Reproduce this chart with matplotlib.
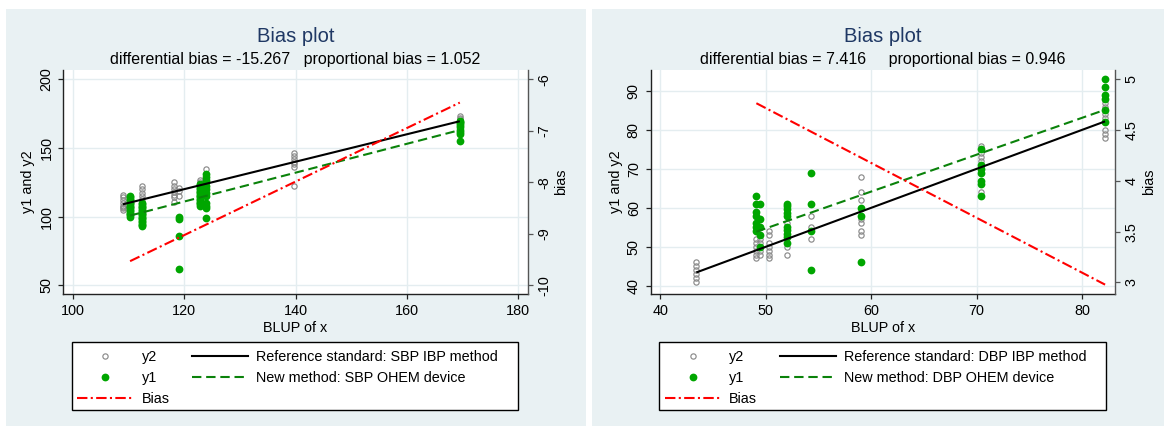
import matplotlib
matplotlib.use('Agg')
import matplotlib.pyplot as plt
from matplotlib.lines import Line2D
from matplotlib.patches import Rectangle
from matplotlib.ticker import FormatStrFormatter

plt.rcParams['font.family'] = ['Liberation Sans', 'DejaVu Sans']
plt.rcParams['axes.unicode_minus'] = False

# ---------------- data: SBP (left panel) ----------------
sbp_y2_x = [109.0, 112.4, 118.1, 119.1, 122.9, 123.9, 139.7, 169.5]
sbp_y2_vals = [
    [116, 114, 112, 110, 108, 107, 106, 105],
    [122, 120, 117, 115, 113, 110, 108],
    [125, 122, 120, 118, 116, 114, 111],
    [121, 119, 115],
    [127, 125, 122, 120, 117, 114, 111],
    [135, 130, 127, 122, 118],
    [146, 144, 142, 140, 138, 136, 122],
    [173, 172, 171, 170, 168, 166],
]
sbp_y1_x = [110.3, 112.4, 119.1, 122.9, 123.9, 169.5]
sbp_y1_vals = [
    [115, 114, 113, 112, 111, 110, 109, 108, 107, 106, 105, 104, 103, 102, 101, 100],
    [110, 109, 108, 107, 106, 105, 104, 103, 102, 101, 100, 99, 98, 97, 96, 95, 94, 93],
    [100, 98.5, 86, 62],
    [124, 123, 122, 121, 120, 119, 118, 117, 116, 115, 114, 113, 112, 111, 110, 109, 108],
    [131, 129, 127, 125, 122, 120, 117, 115, 110, 108, 106, 99],
    [170, 169, 168, 167, 165, 163, 162, 160, 155],
]
sbp_diff_bias = -15.267
sbp_prop_bias = 1.052

# ---------------- data: DBP (right panel) ----------------
dbp_y2_x = [43.4, 49.1, 49.4, 50.3, 52.05, 54.3, 59.0, 70.4, 82.2]
dbp_y2_vals = [
    [46, 45, 44, 43, 42, 41],
    [52, 51, 50, 49, 48, 47],
    [52, 51, 49, 48],
    [54, 53, 51, 50, 49, 48, 47],
    [56, 54, 50, 48],
    [58, 55, 52],
    [68, 64, 62, 57, 56, 54, 53],
    [76, 74, 73, 72, 71, 70, 69, 64],
    [87, 86, 84, 83, 80, 79, 78],
]
dbp_y1_x = [49.1, 49.4, 52.05, 54.3, 59.0, 70.4, 82.2]
dbp_y1_vals = [
    [63, 61, 59, 58, 56, 55, 54],
    [61, 57, 55, 53, 50],
    [61, 60.5, 59.6, 58.7, 57.9, 55.2, 54.3, 53.4, 52.4, 51],
    [69, 61, 54, 44],
    [60, 58, 46],
    [75, 71, 70, 69, 67, 66, 63],
    [93, 91, 89, 88, 85, 82],
]
dbp_diff_bias = 7.416
dbp_prop_bias = 0.946

# ---------------- style ----------------
W, H = 1164, 426
BG = '#e9f1f3'
GRID = '#e4edf0'
GRAY = '#8a8a8a'
GREEN = '#00a600'
DKGREEN = '#0a820a'
NAVY = '#1f3864'
FS = 10.4


def fx(px):
    return px / W


def fy(py):
    return 1 - py / H


def expand(xs, vals):
    ox, oy = [], []
    for x, vs in zip(xs, vals):
        for v in vs:
            ox.append(x)
            oy.append(v)
    return ox, oy


fig = plt.figure(figsize=(W / 100, H / 100), dpi=100)
fig.patch.set_facecolor('white')

panels = [
    dict(bg=(6, 586), ax=(63.3, 527.7), y2x=sbp_y2_x, y2v=sbp_y2_vals, y1x=sbp_y1_x, y1v=sbp_y1_vals,
         a=sbp_diff_bias, b=sbp_prop_bias, fmt='%.3f',
         xlim=(98.31, 181.69), xticks=[100, 120, 140, 160, 180],
         ylim=(43.45, 206.8), yticks=[50, 100, 150, 200],
         blim=(-10.175, -5.82), bticks=[-10, -9, -8, -7, -6],
         leg=(72.3, 518.3), hstart=77.3, name='SBP', gap='   '),
    dict(bg=(592, 1164), ax=(650.7, 1115.0), y2x=dbp_y2_x, y2v=dbp_y2_vals, y1x=dbp_y1_x, y1v=dbp_y1_vals,
         a=dbp_diff_bias, b=dbp_prop_bias, fmt='%.3f',
         xlim=(39.07, 83.14), xticks=[40, 50, 60, 70, 80],
         ylim=(37.79, 95.39), yticks=[40, 50, 60, 70, 80, 90],
         blim=(2.882, 5.092), bticks=[3, 3.5, 4, 4.5, 5],
         leg=(659.3, 1106.0), hstart=665.0, name='DBP', gap='     '),
]

top_px, bot_px = 70.0, 294.3

for p in panels:
    x0, x1 = p['bg']
    fig.patches.append(Rectangle((fx(x0), 0), fx(x1) - fx(x0), fy(9), transform=fig.transFigure,
                                 facecolor=BG, edgecolor='none', zorder=-10))
    l, r = p['ax']
    ax = fig.add_axes([fx(l), fy(bot_px), (r - l) / W, (bot_px - top_px) / H])
    ax.set_facecolor('white')
    ax.set_xlim(*p['xlim'])
    ax.set_ylim(*p['ylim'])
    ax.set_xticks(p['xticks'])
    ax.set_yticks(p['yticks'])
    ax.grid(True, color=GRID, lw=1.0, zorder=0)
    ax.set_axisbelow(True)
    for s in ['top', 'right']:
        ax.spines[s].set_visible(False)
    for s in ['left', 'bottom']:
        ax.spines[s].set_color('#222222')
        ax.spines[s].set_linewidth(1.0)
    ax.tick_params(direction='out', length=3.6, width=0.9, color='#222222', pad=3.5, labelsize=FS)
    ax.tick_params(axis='y', labelrotation=90)
    for lab in ax.get_yticklabels():
        lab.set_va('center')

    y2x, y2y = expand(p['y2x'], p['y2v'])
    y1x, y1y = expand(p['y1x'], p['y1v'])
    ax.plot(y2x, y2y, ls='none', marker='o', mfc='none', mec=GRAY, ms=3.8, mew=0.85, zorder=2)
    ax.plot(y1x, y1y, ls='none', marker='o', color=GREEN, ms=5.6, mew=0, zorder=2.1)

    rx = [min(y2x), max(y2x)]
    ax.plot(rx, rx, color='black', lw=1.5, zorder=3, solid_capstyle='butt')
    nx = [min(y1x), max(y1x)]
    ax.plot(nx, [p['a'] + p['b'] * v for v in nx], color=DKGREEN, lw=1.5,
            ls=(0, (4.5, 2.3)), zorder=3)

    ax.set_xlabel('BLUP of x', fontsize=FS, labelpad=2)
    ax.set_ylabel('y1 and y2', fontsize=FS, labelpad=3)

    ax2 = ax.twinx()
    ax2.set_ylim(*p['blim'])
    ax2.set_yticks(p['bticks'])
    ax2.yaxis.set_major_formatter(FormatStrFormatter('%g'))
    for s in ['top', 'left', 'bottom']:
        ax2.spines[s].set_visible(False)
    ax2.spines['right'].set_color('#555555')
    ax2.spines['right'].set_linewidth(1.0)
    ax2.tick_params(direction='out', length=3.6, width=0.9, color='#555555', pad=3.5,
                    labelsize=FS, labelrotation=90)
    for lab in ax2.get_yticklabels():
        lab.set_va('center')
    ax2.plot(nx, [p['a'] + (p['b'] - 1) * v for v in nx], color='#ff0000', lw=1.5,
             ls=(0, (5, 1.6, 1, 1.6)), zorder=4)
    ax2.set_ylabel('bias', fontsize=FS, labelpad=2, rotation=90)

    cx = fx((l + r) / 2)
    fig.text(cx, fy(41.7), 'Bias plot', fontsize=14.5, color=NAVY, ha='center', va='baseline')
    sub = ('differential bias = ' + p['fmt'] % p['a'] + p['gap'] +
           'proportional bias = ' + p['fmt'] % p['b'])
    fig.text(cx, fy(64), sub, fontsize=11.5, color='black', ha='center', va='baseline')

    # legend
    lx0, lx1 = p['leg']
    fig.patches.append(Rectangle((fx(lx0), fy(410)), fx(lx1) - fx(lx0), (410 - 342) / H,
                                 transform=fig.transFigure, facecolor='white', edgecolor='black',
                                 lw=1.0, zorder=1))
    handles = [
        Line2D([], [], ls='none', marker='o', mfc='none', mec=GRAY, ms=3.8, mew=0.85),
        Line2D([], [], ls='none', marker='o', color=GREEN, ms=5.6, mew=0),
        Line2D([], [], color='#ff0000', lw=1.5, ls=(0, (5, 1.6, 1, 1.6))),
        Line2D([], [], color='black', lw=1.5),
        Line2D([], [], color=DKGREEN, lw=1.5, ls=(0, (4.5, 2.3))),
    ]
    labels = ['y2', 'y1', 'Bias',
              'Reference standard: %s IBP method' % p['name'],
              'New method: %s OHEM device' % p['name']]
    fig.legend(handles, labels, ncol=2, loc='upper left',
               bbox_to_anchor=(fx(p['hstart']), fy(350.0)), bbox_transform=fig.transFigure,
               frameon=False, borderpad=0, borderaxespad=0, handlelength=3.9,
               handletextpad=0.55, columnspacing=1.55, labelspacing=0.49, fontsize=FS)

fig.savefig('out.png', dpi=100, facecolor='white')
